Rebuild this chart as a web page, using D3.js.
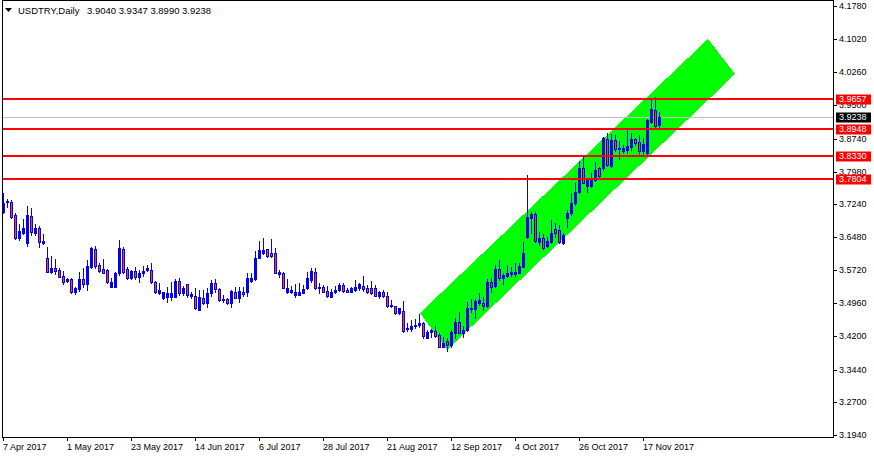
<!DOCTYPE html>
<html><head><meta charset="utf-8">
<script src="https://cdn.jsdelivr.net/npm/d3@7"></script>
<style>
html,body{margin:0;padding:0;background:#fff;}
svg{display:block;}
text{font-family:"Liberation Sans",Arial,sans-serif;}
</style></head>
<body>
<svg id="chart" width="874" height="459"></svg>
<script>
// ---------- DATA ----------
const symbol = "USDTRY";
const timeframe = "Daily";
const startDate = "2017-04-07";

const open = [3.7055,3.7284,3.7284,3.6986,3.6458,3.6573,3.6344,3.6963,3.6573,3.6688,
3.6344,3.6000,3.5679,3.5770,3.5724,3.5587,3.5472,3.5518,3.5220,3.5289,
3.5518,3.5403,3.5793,3.6206,3.5839,3.5747,3.5724,3.5335,3.5335,3.5656,
3.6206,3.5747,3.5541,3.5702,3.5564,3.5656,3.5724,3.5724,3.5449,3.5197,
3.5082,3.5105,3.5105,3.5105,3.5472,3.5197,3.5403,3.5128,3.5128,3.4807,
3.5082,3.4968,3.5197,3.5426,3.5289,3.5059,3.5059,3.4968,3.5220,3.5082,
3.5220,3.5220,3.5472,3.5518,3.6000,3.6114,3.6206,3.6114,3.6114,3.5633,
3.5656,3.5220,3.5220,3.5151,3.5151,3.5197,3.5312,3.5495,3.5679,3.5312,
3.5335,3.5243,3.5105,3.5220,3.5266,3.5380,3.5266,3.5220,3.5266,3.5312,
3.5357,3.5312,3.5312,3.5312,3.5128,3.5220,3.5128,3.4922,3.4899,3.4738,
3.4784,3.4371,3.4371,3.4440,3.4463,3.4509,3.4165,3.4302,3.4325,3.4234,
3.3958,3.4096,3.4004,3.4280,3.4532,3.4280,3.4348,3.4830,3.4830,3.4968,
3.4968,3.4899,3.5449,3.5357,3.5747,3.5541,3.5587,3.5633,3.5633,3.5656,
3.5793,3.6481,3.6917,3.7009,3.6367,3.6458,3.6275,3.6367,3.6665,3.6642,
3.6344,3.6917,3.7032,3.7261,3.7513,3.8064,3.7651,3.7651,3.7789,3.8064,
3.8064,3.8729,3.8110,3.8706,3.8500,3.8454,3.8477,3.8546,3.8729,3.8660,
3.8454,3.8408,3.9119,3.9394,3.9040];

const high = [3.7490,3.7353,3.7330,3.7032,3.6779,3.6894,3.7192,3.7147,3.6779,3.6733,
3.6550,3.6252,3.6046,3.5977,3.5770,3.5702,3.5541,3.5541,3.5335,3.5679,
3.5770,3.5954,3.6252,3.6275,3.5885,3.5977,3.5747,3.5541,3.5679,3.6413,
3.6252,3.5793,3.5724,3.5793,3.5724,3.5816,3.5839,3.5885,3.5472,3.5426,
3.5220,3.5335,3.5449,3.5518,3.5541,3.5357,3.5403,3.5220,3.5312,3.5266,
3.5266,3.5312,3.5495,3.5518,3.5312,3.5151,3.5082,3.5266,3.5335,3.5335,
3.5335,3.5656,3.5656,3.6160,3.6390,3.6458,3.6206,3.6435,3.6229,3.5724,
3.5679,3.5518,3.5357,3.5403,3.5426,3.5380,3.5679,3.5770,3.5770,3.5426,
3.5380,3.5357,3.5289,3.5357,3.5426,3.5426,3.5312,3.5335,3.5495,3.5426,
3.5587,3.5380,3.5472,3.5380,3.5243,3.5266,3.5220,3.5036,3.4899,3.4853,
3.5013,3.4509,3.4578,3.4600,3.4715,3.4532,3.4348,3.4371,3.4440,3.4280,
3.4188,3.4165,3.4348,3.4624,3.4761,3.4440,3.4990,3.5059,3.5059,3.5197,
3.5105,3.5518,3.5541,3.5839,3.5954,3.5656,3.5839,3.5793,3.5885,3.5885,
3.6367,3.7903,3.7055,3.7055,3.6596,3.6550,3.6481,3.6871,3.6802,3.6756,
3.6573,3.7101,3.7490,3.7720,3.8224,3.8316,3.7834,3.7949,3.8201,3.8087,
3.8775,3.8867,3.8844,3.8821,3.8683,3.8592,3.8982,3.8867,3.8752,3.8821,
3.8752,3.9188,3.9670,3.9693,3.9347];

const low = [3.7032,3.7170,3.6917,3.6435,3.6413,3.6550,3.6275,3.6527,3.6527,3.6252,
3.6321,3.5679,3.5656,3.5633,3.5564,3.5403,3.5449,3.5197,3.5174,3.5243,
3.5335,3.5266,3.5770,3.5770,3.5679,3.5656,3.5426,3.5335,3.5335,3.5610,
3.5656,3.5518,3.5518,3.5518,3.5449,3.5587,3.5702,3.5426,3.5197,3.5174,
3.5059,3.4990,3.5036,3.5105,3.5151,3.5151,3.5105,3.5082,3.4830,3.4807,
3.4945,3.4876,3.5128,3.5220,3.5013,3.4990,3.4945,3.4876,3.5082,3.4990,
3.5128,3.5128,3.5449,3.5495,3.6000,3.6092,3.6023,3.6023,3.5656,3.5564,
3.5312,3.5197,3.5197,3.5105,3.5151,3.5197,3.5289,3.5449,3.5289,3.5197,
3.5220,3.5105,3.5105,3.5197,3.5243,3.5220,3.5220,3.5220,3.5243,3.5266,
3.5243,3.5197,3.5174,3.5128,3.5082,3.5105,3.4876,3.4876,3.4715,3.4715,
3.4302,3.4325,3.4325,3.4394,3.4417,3.4165,3.4165,3.4188,3.4188,3.3958,
3.3958,3.3867,3.3958,3.4165,3.4280,3.4188,3.4325,3.4761,3.4624,3.4922,
3.4807,3.4876,3.5220,3.5335,3.5495,3.5403,3.5564,3.5587,3.5587,3.5656,
3.5793,3.6458,3.6573,3.6367,3.6298,3.6206,3.6252,3.6344,3.6481,3.6344,
3.6321,3.6711,3.6986,3.7215,3.7490,3.7720,3.7513,3.7628,3.7766,3.7857,
3.8018,3.8110,3.8087,3.8454,3.8271,3.8408,3.8408,3.8477,3.8592,3.8362,
3.8339,3.8339,3.9096,3.8982,3.8990];

const close = [3.7261,3.7307,3.6940,3.6458,3.6619,3.6688,3.6986,3.6596,3.6688,3.6367,
3.6390,3.5679,3.5770,3.5702,3.5564,3.5449,3.5518,3.5220,3.5312,3.5518,
3.5403,3.5816,3.6229,3.5816,3.5702,3.5656,3.5449,3.5449,3.5656,3.6229,
3.5679,3.5541,3.5702,3.5564,3.5656,3.5702,3.5770,3.5449,3.5220,3.5266,
3.5220,3.5197,3.5197,3.5472,3.5197,3.5312,3.5151,3.5174,3.4853,3.5105,
3.4968,3.5197,3.5426,3.5289,3.5036,3.5036,3.4968,3.5243,3.5082,3.5243,
3.5174,3.5541,3.5541,3.6000,3.6183,3.6183,3.6046,3.6046,3.5656,3.5679,
3.5312,3.5312,3.5266,3.5220,3.5220,3.5289,3.5541,3.5702,3.5312,3.5335,
3.5220,3.5128,3.5220,3.5266,3.5380,3.5243,3.5220,3.5312,3.5335,3.5403,
3.5289,3.5220,3.5197,3.5128,3.5220,3.5128,3.4899,3.4899,3.4738,3.4853,
3.4325,3.4394,3.4440,3.4463,3.4509,3.4211,3.4302,3.4348,3.4211,3.3958,
3.4050,3.4004,3.4302,3.4532,3.4280,3.4348,3.4853,3.4853,3.5013,3.5036,
3.4899,3.5449,3.5335,3.5747,3.5541,3.5610,3.5656,3.5679,3.5679,3.5816,
3.6114,3.6940,3.7009,3.6390,3.6458,3.6229,3.6390,3.6573,3.6573,3.6367,
3.6527,3.7032,3.7261,3.7513,3.8064,3.7720,3.7789,3.7811,3.8018,3.7880,
3.8752,3.8133,3.8706,3.8500,3.8523,3.8523,3.8569,3.8729,3.8638,3.8454,
3.8615,3.9165,3.9417,3.9028,3.9238];

const levels = [3.9657, 3.8948, 3.8330, 3.7804];          // red horizontal lines
const yTicks = [4.1780,4.1020,4.0260,3.9500,3.8740,3.7980,3.7240,3.6480,3.5720,3.4960,3.4200,3.3440,3.2700,3.1940];
const xTickLabels = ["7 Apr 2017","1 May 2017","23 May 2017","14 Jun 2017","6 Jul 2017","28 Jul 2017","21 Aug 2017","12 Sep 2017","4 Oct 2017","26 Oct 2017","17 Nov 2017"];
// channel corners: [bar index, price]
const channelBar = [104.25, 176.25, 183, 111];
const channelPrice = [3.4738, 4.1023, 4.0220, 3.3890];

// ---------- BUILD ----------
const N = close.length;
// trading-day dates (Mon-Fri)
const dates = [];
{ let d = new Date(startDate + "T00:00:00");
  while (dates.length < N) { const wd = d.getDay(); if (wd !== 0 && wd !== 6) dates.push(new Date(d)); d.setDate(d.getDate()+1); } }
const fmt = d3.timeFormat("%-d %b %Y");
const bars = d3.range(N).map(i => ({i, date: dates[i], o: open[i], h: high[i], l: low[i], c: close[i]}));

const L = 2, R = 833, T = 0, B = 437;
const x = d3.scaleLinear().domain([0, N-1]).range([3, 3 + 4*(N-1)]);
const y = d3.scaleLinear().domain([3.194, 4.178]).range([435, 6]);
const py = v => Math.round(y(v));

const svg = d3.select("#chart");
svg.append("rect").attr("width",874).attr("height",459).attr("fill","#fff");
svg.append("defs").append("clipPath").attr("id","plot")
  .append("rect").attr("x",L+1).attr("y",T+1).attr("width",R-L-1).attr("height",B-T-1);
const plot = svg.append("g").attr("clip-path","url(#plot)");

// channel
plot.append("path")
  .attr("d", d3.line().x((d,k)=>x(channelBar[k])).y((d,k)=>y(channelPrice[k])).curve(d3.curveLinearClosed)(channelBar))
  .attr("fill","#00ff00").attr("shape-rendering","crispEdges");

// bid line
const bid = close[N-1];
plot.append("rect").attr("x",L).attr("width",R-L).attr("y",py(bid)).attr("height",1).attr("fill","#c0c0c0");

// candles
const cg = plot.append("g").attr("shape-rendering","crispEdges");
const cand = cg.selectAll("g.c").data(bars).join("g").attr("class","c");
cand.append("rect").attr("x",d=>x(d.i)).attr("width",1)
  .attr("y",d=>py(d.h)).attr("height",d=>Math.max(1,py(d.l)-py(d.h)+1)).attr("fill","#0000ff");
cand.append("rect").attr("x",d=>x(d.i)-1).attr("width",3)
  .attr("y",d=>py(Math.max(d.o,d.c))).attr("height",d=>Math.max(1,py(Math.min(d.o,d.c))-py(Math.max(d.o,d.c))+1))
  .attr("fill","#0000ff");
cand.filter(d=>d.c<d.o && py(d.c)-py(d.o)>=2).append("rect").attr("x",d=>x(d.i)).attr("width",1)
  .attr("y",d=>py(d.o)+1).attr("height",d=>py(d.c)-py(d.o)-1).attr("fill","#ff4500");

// horizontal levels
plot.selectAll("rect.lvl").data(levels).join("rect").attr("class","lvl")
  .attr("x",L).attr("width",R-L).attr("y",d=>py(d)-1).attr("height",2).attr("fill","#ff0000");

// frame
svg.append("rect").attr("x",L+0.5).attr("y",T+0.5).attr("width",R-L).attr("height",B-T)
  .attr("fill","none").attr("stroke","#000").attr("stroke-width",1);

// y axis
const ya = svg.append("g");
yTicks.forEach(v=>{
  const yy = py(v);
  ya.append("rect").attr("x",R+1).attr("y",yy).attr("width",3).attr("height",1).attr("fill","#000");
  ya.append("text").attr("x",839).attr("y",yy).attr("dy","0.34em").attr("font-size","9px").attr("fill","#000")
    .text(d3.format(".4f")(v));
});
// price label boxes
const tag = (v, col) => {
  const yy = py(v);
  svg.append("rect").attr("x",836).attr("y",yy-4.5).attr("width",35).attr("height",10).attr("fill",col);
  svg.append("text").attr("x",839).attr("y",yy).attr("dy","0.34em").attr("font-size","9px").attr("fill","#fff")
    .text(d3.format(".4f")(v));
};
levels.forEach(v=>tag(v,"#ff0000"));
tag(bid,"#000000");

// x axis
const xa = svg.append("g");
xTickLabels.forEach(lab=>{
  const i = dates.findIndex(d=>fmt(d)===lab);
  if (i<0) return;
  const xx = x(i);
  xa.append("rect").attr("x",xx).attr("y",B).attr("width",1).attr("height",4).attr("fill","#000");
  xa.append("text").attr("x",xx).attr("y",450).attr("font-size","9px").attr("fill","#000").text(lab);
});

// title
const tt = svg.append("g");
tt.append("path").attr("d","M5,8 L12,8 L8.5,12 Z").attr("fill","#000");
tt.append("text").attr("x",18).attr("y",13.5).attr("font-size","9.5px").attr("fill","#000").text(symbol+","+timeframe);
tt.append("text").attr("x",87).attr("y",13.5).attr("font-size","9.5px").attr("fill","#000")
  .text([open[N-1],high[N-1],low[N-1],close[N-1]].map(d3.format(".4f")).join(" "));
</script>
</body></html>
